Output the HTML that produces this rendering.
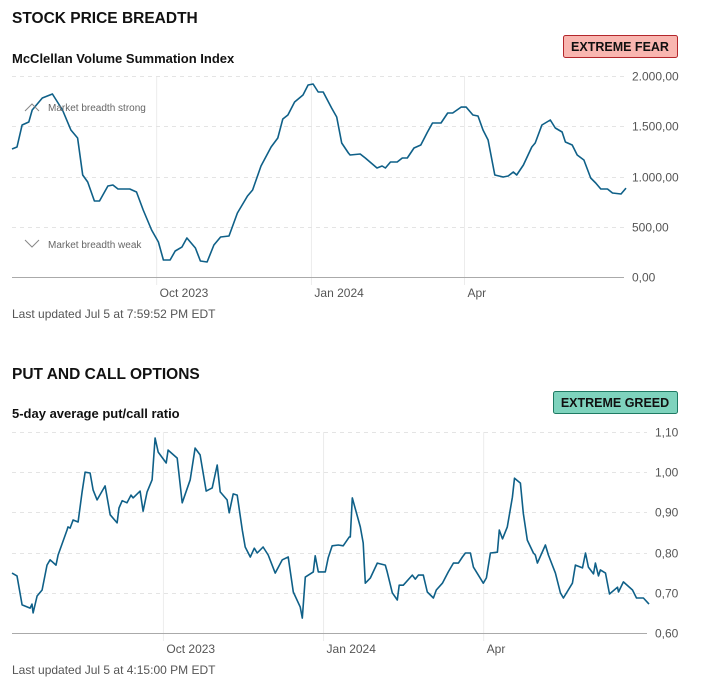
<!DOCTYPE html>
<html><head><meta charset="utf-8"><style>
body{margin:0;background:#fff;width:701px;height:684px;overflow:hidden;font-family:"Liberation Sans",sans-serif}
svg{display:block}
</style></head><body>
<svg id="s" width="701" height="684" xmlns="http://www.w3.org/2000/svg">
<text x="12" y="23" font-size="15.5" font-weight="bold" fill="#111">STOCK PRICE BREADTH</text>
<text x="12" y="63" font-size="13" font-weight="bold" fill="#111">McClellan Volume Summation Index</text>
<g><rect x="563.5" y="35.5" width="114" height="22" rx="2" fill="#f9b6b0" stroke="#b3262b"/><text x="620" y="51" text-anchor="middle" font-size="12.5" font-weight="bold" fill="#111">EXTREME FEAR</text></g>
<text x="12" y="318" font-size="12" fill="#555">Last updated Jul 5 at 7:59:52 PM EDT</text>
<text x="12" y="379" font-size="15.5" font-weight="bold" fill="#111">PUT AND CALL OPTIONS</text>
<text x="12" y="418" font-size="13" font-weight="bold" fill="#111">5-day average put/call ratio</text>
<g><rect x="553.5" y="391.5" width="124" height="22" rx="2" fill="#7ed3bd" stroke="#1e7a63"/><text x="615" y="407" text-anchor="middle" font-size="12.5" font-weight="bold" fill="#111">EXTREME GREED</text></g>
<text x="12" y="674" font-size="12" fill="#555">Last updated Jul 5 at 4:15:00 PM EDT</text>
<g id="c1"></g><g id="c2"></g>
</svg>
<script>
const c1Days=[0,3,6,10,12,18,24,30,35,39,42,45,49,52,57,60,63,70,74,78,83,87,90,94,97,101,104,109,112,116,120,124,129,134,140,143,148,154,158,161,164,168,173,176,179,182,185,190,193,196,200,201,207,210,217,220,222,225,229,232,235,239,243,247,250,255,259,262,267,270,274,277,280,283,287,292,295,298,300,304,309,311,315,320,323,327,329,333,336,340,344,347,350,354,357,362,365];
const c1Values=[1274,1294,1512,1542,1662,1781,1821,1662,1463,1383,1015,945,756,756,905,915,876,876,846,667,468,348,169,169,259,298,388,289,159,149,318,398,408,637,806,866,1104,1294,1383,1572,1612,1741,1811,1910,1920,1841,1841,1682,1592,1333,1234,1214,1224,1184,1085,1104,1085,1144,1144,1184,1184,1284,1313,1443,1532,1532,1632,1632,1691,1691,1612,1602,1463,1363,1015,995,1005,1045,1015,1114,1294,1333,1512,1562,1483,1443,1343,1313,1214,1164,985,935,876,876,836,826,885];
const c1Ticks=[0,500,1000,1500,2000];
const c1TickLabels=["0,00","500,00","1.000,00","1.500,00","2.000,00"];
const c1MonthDays=[86,178,269];
const c1MonthLabels=["Oct 2023","Jan 2024","Apr"];

const c2Days=[0,2.9,5.8,10.4,11.5,12.1,14.4,17.3,20.1,21.9,25.3,26.5,31.6,32.2,33.4,35.1,38,40.3,42,44.9,46.6,48.9,53.5,56.4,60.4,61.5,63.3,66.1,68.4,69.6,73.6,75.3,77.6,80.5,82.2,84,88.6,89.7,94.9,97.8,102.4,105.2,108.1,111.6,115,117.9,119.6,123.6,124.8,127.1,129.4,132.3,134,136.9,139.2,140.9,144.3,147.2,151.2,155.3,158.7,161.6,165.6,166.8,168.5,173.1,174.2,176,180,181.7,184,187.5,190.3,193.8,194.4,195.5,200.1,201.8,203,205.9,209.9,214.5,215.6,218.5,221.4,222.5,224.8,230,231.7,233.5,236.3,238.6,242.1,243.8,247.3,250.7,253.6,256.5,258.8,260.5,263.4,265.1,270.8,272.6,274.9,278.9,280,281.8,284.6,287.5,288.7,292.1,293.8,296.1,299.6,300.7,301.9,306.5,308.2,312.2,315.1,316.8,322,323.7,327.8,329.5,331.2,334.1,335.2,337,338.1,341,343.3,347.9,348.5,351.3,356.5,358.8,362.8,366];
const c2Values=[.749,.742,.670,.662,.672,.650,.692,.707,.769,.782,.769,.794,.856,.864,.861,.881,.876,.951,1.000,.998,.956,.931,.966,.894,.874,.911,.929,.924,.943,.936,.953,.903,.951,.981,1.085,1.050,1.023,1.055,1.035,.924,.981,1.060,1.043,.953,.961,1.018,.951,.931,.899,.946,.943,.856,.814,.789,.811,.799,.814,.794,.749,.782,.789,.702,.665,.637,.739,.752,.792,.752,.752,.787,.817,.819,.817,.839,.839,.936,.864,.824,.724,.737,.774,.769,.752,.700,.682,.719,.719,.744,.734,.744,.744,.702,.687,.707,.724,.752,.774,.774,.789,.799,.799,.764,.724,.737,.799,.801,.856,.834,.864,.938,.985,.973,.898,.831,.799,.794,.774,.819,.794,.749,.700,.687,.724,.769,.762,.799,.764,.747,.774,.742,.757,.749,.697,.714,.702,.727,.707,.687,.687,.672];
const c2Ticks=[0.6,0.7,0.8,0.9,1.0,1.1];
const c2TickLabels=["0,60","0,70","0,80","0,90","1,00","1,10"];
const c2MonthDays=[87,179,271];
const c2MonthLabels=["Oct 2023","Jan 2024","Apr"];

const NS="http://www.w3.org/2000/svg";
function mk(p,t,a){const e=document.createElementNS(NS,t);for(const k in a)e.setAttribute(k,a[k]);p.appendChild(e);return e;}
function draw(g,cfg,days,vals,ticks,tickLabels,mDays,mLabels,prefix){
  const x=d=>cfg.x0+(d-cfg.d0)/(cfg.d1-cfg.d0)*(cfg.x1-cfg.x0);
  const y=v=>cfg.yB+(v-cfg.v0)/(cfg.v1-cfg.v0)*(cfg.yT-cfg.yB);
  mDays.forEach((d,i)=>{
    const l=mk(g,'line',{x1:x(d),x2:x(d),y1:cfg.yT,y2:cfg.yB+8,stroke:'#ececec','stroke-width':1});
    
    
    const t=mk(g,'text',{x:x(d)+3,y:cfg.yB+20,'font-size':12,fill:'#555'});t.textContent=mLabels[i];
    
    
  });
  ticks.forEach((v,i)=>{
    const yy=Math.round(y(v))+0.5;
    const l=mk(g,'line',{x1:12,x2:cfg.gx,y1:yy,y2:yy,stroke:i==0?'#aaa':'#e4e4e4','stroke-width':1,'stroke-dasharray':i==0?'none':'4,4'});
    
    
    const t=mk(g,'text',{x:cfg.lx,y:yy+4,'font-size':12,fill:'#555'});t.textContent=tickLabels[i];
    
    
  });
  const p=mk(g,'path',{d:days.map((d,i)=>(i?'L':'M')+x(d).toFixed(1)+','+y(vals[i]).toFixed(1)).join(''),fill:'none',stroke:'#0f6088','stroke-width':1.6,'stroke-linejoin':'round'});
  
  
}
const g1=document.getElementById('c1');
draw(g1,{x0:12,x1:626,d0:0,d1:365,yB:277,yT:76,v0:0,v1:2000,gx:624,lx:632},c1Days,c1Values,c1Ticks,c1TickLabels,c1MonthDays,c1MonthLabels,'breadth');
const g2=document.getElementById('c2');
draw(g2,{x0:12,x1:649,d0:0,d1:366,yB:633,yT:432,v0:0.6,v1:1.1,gx:647,lx:655},c2Days,c2Values,c2Ticks,c2TickLabels,c2MonthDays,c2MonthLabels,'putcall');
// annotations
const a1=mk(g1,'g',{});


mk(a1,'path',{d:'M25,111 L32,104 L39,111',fill:'none',stroke:'#888','stroke-width':1});
const t1=mk(a1,'text',{x:48,y:111,'font-size':10,fill:'#666'});t1.textContent='Market breadth strong';
const a2=mk(g1,'g',{});


mk(a2,'path',{d:'M25,240 L32,247 L39,240',fill:'none',stroke:'#888','stroke-width':1});
const t2=mk(a2,'text',{x:48,y:248,'font-size':10,fill:'#666'});t2.textContent='Market breadth weak';
</script>
</body></html>
